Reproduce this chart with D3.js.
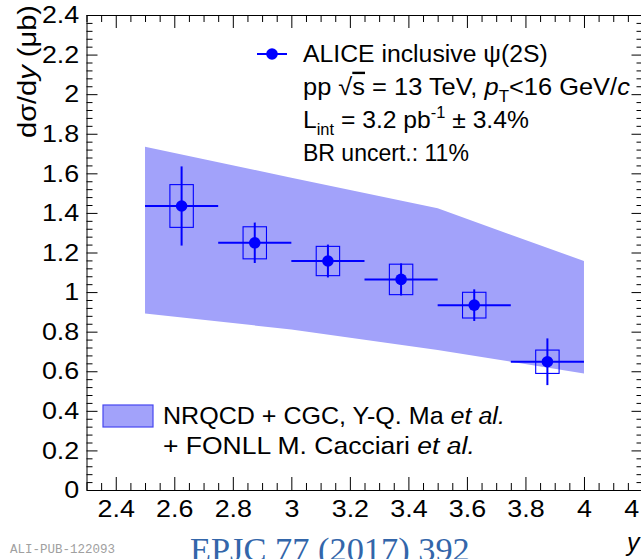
<!DOCTYPE html>
<html>
<head>
<meta charset="utf-8">
<script src="https://cdn.jsdelivr.net/npm/d3@7"></script>
<style>
  html, body { margin: 0; padding: 0; background: #fff; overflow: hidden; }
  svg { display: block; }
  text { font-family: "Liberation Sans", Arial, Helvetica, sans-serif; fill: #000; }
</style>
</head>
<body>
<svg id="chart" width="641" height="559"></svg>
<script>
// Inclusive psi(2S) production cross section vs rapidity, pp at 13 TeV
const binEdges = [2.5, 2.75, 3.0, 3.25, 3.5, 3.75, 4.0];
const rapidity = [2.625, 2.875, 3.125, 3.375, 3.625, 3.875];
const xsec     = [1.435, 1.249, 1.157, 1.064, 0.934, 0.648];
const statErr  = [0.200, 0.102, 0.083, 0.081, 0.080, 0.118];
const systErr  = [0.108, 0.081, 0.074, 0.077, 0.065, 0.059];
const systHalfWidth = 0.04;

// NRQCD + CGC (+ FONLL) model band
const bandRapidity = [2.5, 3.0, 3.5, 4.0];
const bandHigh     = [1.734, 1.578, 1.423, 1.157];
const bandLow      = [0.892, 0.811, 0.708, 0.589];

// Axis ticks
const xMajorTicks = [2.4, 2.6, 2.8, 3.0, 3.2, 3.4, 3.6, 3.8, 4.0, 4.2];
const yMajorTicks = [0, 0.2, 0.4, 0.6, 0.8, 1.0, 1.2, 1.4, 1.6, 1.8, 2.0, 2.2, 2.4];

const blue = "#0000ff";
const bandFill = "#a2a2fa";

const svg = d3.select("#chart");
const frame = { left: 86.5, right: 642.5, top: 15, bottom: 490 };

const x = d3.scaleLinear().domain([2.3, 4.2]).range([frame.left, frame.right]);
const y = d3.scaleLinear().domain([0, 2.4]).range([frame.bottom, frame.top]);

const near = (a, list) => list.some(b => Math.abs(a - b) < 1e-6);
const xMinorTicks = d3.range(0, 39).map(i => +(2.3 + i * 0.05).toFixed(2)).filter(v => v <= 4.2 && !near(v, xMajorTicks));
const yMinorTicks = d3.range(0, 61).map(i => +(i * 0.04).toFixed(2)).filter(v => v <= 2.4 && !near(v, yMajorTicks));

// horizontally stretch a text so it spans `width` px, keeping its left edge at x0
function fitWidth(sel, x0, width) {
  const w = sel.node().getBBox().width;
  const k = width / w;
  sel.attr("transform", `translate(${x0},0) scale(${k},1) translate(${-x0},0)`);
  return sel;
}

// model band
const band = bandRapidity.map((r, i) => ({ r, lo: bandLow[i], hi: bandHigh[i] }));
svg.append("path")
  .datum(band)
  .attr("fill", bandFill)
  .attr("d", d3.area().x(d => x(d.r)).y0(d => y(d.lo)).y1(d => y(d.hi)));

// data points
const pts = rapidity.map((r, i) => ({
  r, v: xsec[i], stat: statErr[i], syst: systErr[i], lo: binEdges[i], hi: binEdges[i + 1]
}));
const g = svg.append("g");
g.selectAll("rect.syst").data(pts).join("rect")
  .attr("class", "syst")
  .attr("x", d => x(d.r - systHalfWidth))
  .attr("width", d => x(d.r + systHalfWidth) - x(d.r - systHalfWidth))
  .attr("y", d => y(d.v + d.syst))
  .attr("height", d => y(d.v - d.syst) - y(d.v + d.syst))
  .attr("fill", "none").attr("stroke", blue).attr("stroke-width", 1.1);
g.selectAll("line.h").data(pts).join("line")
  .attr("class", "h")
  .attr("x1", d => x(d.lo)).attr("x2", d => x(d.hi))
  .attr("y1", d => y(d.v)).attr("y2", d => y(d.v))
  .attr("stroke", blue).attr("stroke-width", 2);
g.selectAll("line.v").data(pts).join("line")
  .attr("class", "v")
  .attr("x1", d => x(d.r)).attr("x2", d => x(d.r))
  .attr("y1", d => y(d.v + d.stat)).attr("y2", d => y(d.v - d.stat))
  .attr("stroke", blue).attr("stroke-width", 2);
g.selectAll("circle").data(pts).join("circle")
  .attr("cx", d => x(d.r)).attr("cy", d => y(d.v)).attr("r", 5.8)
  .attr("fill", blue);

// axes (ticks pointing inwards on all four sides)
const fmt = v => String(+v.toFixed(1));
function styleAxis(sel) {
  sel.attr("font-family", null).attr("font-size", null);
  sel.selectAll("line, path").attr("stroke", "#000").attr("stroke-width", 1);
  sel.selectAll("text").attr("font-size", 24).attr("transform", "scale(1.12,1)");
}
svg.append("g").attr("transform", `translate(${frame.left},0)`)
  .call(d3.axisLeft(y).tickValues(yMajorTicks).tickSize(-11).tickSizeOuter(0).tickPadding(6.5).tickFormat(fmt))
  .call(styleAxis);
svg.append("g").attr("transform", `translate(${frame.left},0)`)
  .call(d3.axisLeft(y).tickValues(yMinorTicks).tickSize(-6).tickFormat(""))
  .call(s => s.select(".domain").remove()).call(styleAxis);
svg.append("g").attr("transform", `translate(${frame.right},0)`)
  .call(d3.axisRight(y).tickValues(yMajorTicks).tickSize(-11).tickSizeOuter(0).tickFormat(""))
  .call(styleAxis);
svg.append("g").attr("transform", `translate(${frame.right},0)`)
  .call(d3.axisRight(y).tickValues(yMinorTicks).tickSize(-6).tickFormat(""))
  .call(s => s.select(".domain").remove()).call(styleAxis);
svg.append("g").attr("transform", `translate(0,${frame.bottom})`)
  .call(d3.axisBottom(x).tickValues(xMajorTicks).tickSize(-13).tickSizeOuter(0).tickPadding(10).tickFormat(fmt))
  .call(styleAxis);
svg.append("g").attr("transform", `translate(0,${frame.bottom})`)
  .call(d3.axisBottom(x).tickValues(xMinorTicks).tickSize(-7).tickFormat(""))
  .call(s => s.select(".domain").remove()).call(styleAxis);
svg.append("g").attr("transform", `translate(0,${frame.top})`)
  .call(d3.axisTop(x).tickValues(xMajorTicks).tickSize(-13).tickSizeOuter(0).tickFormat(""))
  .call(styleAxis);
svg.append("g").attr("transform", `translate(0,${frame.top})`)
  .call(d3.axisTop(x).tickValues(xMinorTicks).tickSize(-7).tickFormat(""))
  .call(s => s.select(".domain").remove()).call(styleAxis);

// axis titles
const yTitle = svg.append("text").attr("text-anchor", "end").attr("font-size", 25);
yTitle.append("tspan").text("dσ/d");
yTitle.append("tspan").attr("font-style", "italic").text("y");
yTitle.append("tspan").text(" (μb)");
{
  const len = yTitle.node().getComputedTextLength();
  yTitle.attr("transform", `translate(36,5) rotate(-90) scale(${133 / len},1)`);
}

svg.append("text").attr("x", 627).attr("y", 551)
  .attr("font-size", 25).attr("font-style", "italic").text("y");

// legend: data entry
const legY = 54;
svg.append("line").attr("x1", 257).attr("x2", 287).attr("y1", legY).attr("y2", legY)
  .attr("stroke", blue).attr("stroke-width", 2);
svg.append("circle").attr("cx", 272).attr("cy", legY).attr("r", 5.8).attr("fill", blue);

const fs = 24;
const l1 = svg.append("text").attr("x", 303).attr("y", 62).attr("font-size", fs).text("ALICE inclusive ψ(2S)");
fitWidth(l1, 303, 245);

const l2 = svg.append("text").attr("x", 303).attr("y", 95).attr("font-size", fs);
l2.append("tspan").text("pp  √");
l2.append("tspan").style("text-decoration", "overline").text("s");
l2.append("tspan").text(" = 13 TeV, ");
l2.append("tspan").attr("font-style", "italic").text("p");
l2.append("tspan").attr("font-size", 16).attr("dy", 7).text("T");
l2.append("tspan").attr("dy", -7).text("<16 GeV/");
l2.append("tspan").attr("font-style", "italic").text("c");
fitWidth(l2, 303, 327);

const l3 = svg.append("text").attr("x", 303).attr("y", 128).attr("font-size", fs);
l3.append("tspan").text("L");
l3.append("tspan").attr("font-size", 16).attr("dy", 7).text("int");
l3.append("tspan").attr("dy", -7).text(" = 3.2 pb");
l3.append("tspan").attr("font-size", 16).attr("dy", -10).text("-1");
l3.append("tspan").attr("dy", 10).text(" ± 3.4%");
fitWidth(l3, 303, 226);

const l4 = svg.append("text").attr("x", 303).attr("y", 161).attr("font-size", 23).text("BR uncert.: 11%");
fitWidth(l4, 303, 166);

// legend: model entry
svg.append("rect").attr("x", 103).attr("y", 405).attr("width", 50).attr("height", 22)
  .attr("fill", bandFill).attr("stroke", "#4646f0").attr("stroke-width", 1.2);
const m1 = svg.append("text").attr("x", 163).attr("y", 424).attr("font-size", fs);
m1.append("tspan").text("NRQCD + CGC, Y-Q. Ma ");
m1.append("tspan").attr("font-style", "italic").text("et al.");
fitWidth(m1, 163, 342);
const m2 = svg.append("text").attr("x", 163).attr("y", 454).attr("font-size", fs);
m2.append("tspan").text("+ FONLL M. Cacciari ");
m2.append("tspan").attr("font-style", "italic").text("et al.");
fitWidth(m2, 163, 312);

// publication tags
svg.append("text").attr("x", 10).attr("y", 553)
  .style("font-family", "'Liberation Mono', 'DejaVu Sans Mono', monospace")
  .attr("font-size", 12.5).style("fill", "#a0a0a0")
  .text("ALI-PUB-122093");
const ref = svg.append("text").attr("x", 190).attr("y", 561)
  .style("font-family", "'Liberation Serif', 'Times New Roman', serif")
  .attr("font-size", 33).style("fill", "#3366aa")
  .text("EPJC 77 (2017) 392");
fitWidth(ref, 190, 280);
</script>
</body>
</html>
